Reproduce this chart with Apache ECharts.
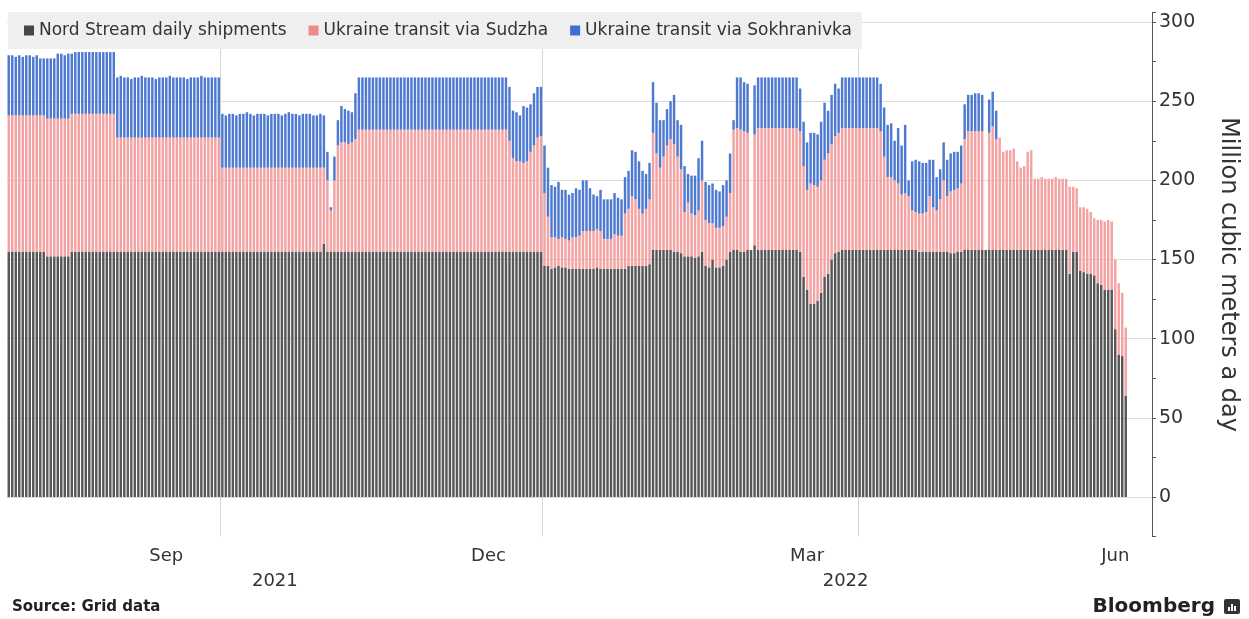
<!DOCTYPE html>
<html><head><meta charset="utf-8">
<script src="https://cdn.jsdelivr.net/npm/echarts@6/dist/echarts.min.js"></script>
<style>html,body{margin:0;padding:0;background:#fff}#c{width:1249px;height:619px}</style>
</head><body><div id="c"></div>
<script>
// x categories: one per day, 2021-08-01 .. 2022-06-23
const firstDay = '2021-08-01';
const dayCount = 327;
const categories = [];
(function () {
  const t0 = Date.parse(firstDay + 'T00:00:00Z');
  for (let i = 0; i < dayCount; i++) categories.push(new Date(t0 + i * 86400000).toISOString().slice(0, 10));
})();

// Nord Stream daily shipments (mcm/d), from 2021-08-01
const nord = [
155,155,155,155,155,155,155,155,155,155,155,
152,152,152,152,152,152,152,
155,155,155,155,155,155,155,155,155,155,155,155,155,
155,155,155,155,155,155,155,155,155,155,155,155,155,155,155,155,155,155,155,155,155,155,155,155,155,155,155,155,155,155,
155,155,155,155,155,155,155,155,155,155,155,155,155,155,155,155,155,155,155,155,155,155,155,155,155,155,155,155,155,
160,
155,155,155,155,155,155,155,155,155,155,155,155,155,155,155,155,155,155,155,155,155,155,155,155,155,155,155,155,155,155,155,155,155,155,155,155,155,155,155,155,155,155,155,155,155,155,155,155,155,155,155,155,155,155,155,155,155,155,155,155,155,155,
146,146,144,145,146,145,145,144,144,144,144,144,144,144,144,145,144,144,144,144,144,144,144,144,146,146,146,146,146,146,147,
156,156,156,156,156,156,155,155,154,152,152,152,151,152,155,146,145,150,145,145,146,150,155,156,156,155,155,156,
156,159,156,156,156,156,156,156,156,156,156,156,156,156,
155,139,131,122,122,124,129,139,141,150,154,155,
156,156,156,156,156,156,156,156,156,156,156,156,
156,156,156,156,156,156,156,156,156,156,
155,155,155,155,155,155,155,155,155,
154,154,155,155,
156,156,156,156,156,156,156,156,156,156,
156,156,156,156,156,156,156,156,156,156,156,156,156,156,156,156,156,156,156,156,
141,155,155,143,142,141,141,140,135,134,131,131,131,106,90,89,64
];

// Ukraine transit via Sudzha (mcm/d)
const sudzha = [
86,86,86,86,86,86,86,86,86,86,86,
87,87,87,87,87,87,87,
87,87,87,87,87,87,87,87,87,87,87,87,87,
72,72,72,72,72,72,72,72,72,72,72,72,72,72,72,72,72,72,72,72,72,72,72,72,72,72,72,72,72,72,
53,53,53,53,53,53,53,53,53,53,53,53,53,53,53,53,53,53,53,53,53,53,53,53,53,53,53,53,53,
48,
45,26,45,67,69,69,68,69,71,
77,77,77,77,77,77,77,77,77,77,77,77,77,77,77,77,77,77,77,77,77,77,77,77,77,77,77,77,77,77,77,77,77,77,77,77,77,77,77,77,77,77,77,
70,59,57,57,56,57,63,67,72,73,
46,31,20,19,17,19,18,18,20,20,21,24,24,24,24,24,24,19,19,19,22,21,21,35,36,44,42,36,33,36,41,
74,61,52,59,66,70,68,60,53,28,34,27,27,29,45,29,28,23,25,25,25,27,37,76,77,77,76,74,
0,70,77,77,77,77,77,77,77,77,77,77,77,77,
76,70,63,76,75,72,71,74,76,73,74,75,
77,77,77,77,77,77,77,77,77,77,77,75,
59,46,46,44,42,35,36,34,25,24,24,24,25,35,28,26,33,45,35,39,40,40,43,
70,75,75,75,75,75,0,74,78,70,
71,62,63,63,64,56,52,53,62,63,
45,45,46,45,45,45,46,45,45,45,
55,41,40,40,41,41,39,36,40,41,43,44,43,44,45,40,43
];

// Ukraine transit via Sokhranivka (mcm/d)
const sokhranivka = [
38,38,37,38,37,38,38,37,38,36,36,
38,38,38,41,41,40,41,
38,39,39,39,39,39,39,39,39,39,39,39,39,
38,39,38,38,37,38,38,39,38,38,38,37,38,38,38,39,38,38,38,38,37,38,38,38,39,38,38,38,38,38,
34,33,34,34,33,34,34,35,34,33,34,34,34,33,34,34,34,33,34,35,34,34,33,34,34,34,33,33,34,
33,
18,2,15,16,23,21,21,19,29,
33,33,33,33,33,33,33,33,33,33,33,33,33,33,33,33,33,33,33,33,33,33,33,33,33,33,33,33,33,33,33,33,33,33,33,33,33,33,33,33,33,33,33,
34,30,31,29,36,34,30,33,32,31,
30,31,33,32,36,30,31,29,28,31,29,32,32,27,23,21,26,25,25,25,26,24,23,23,24,29,30,30,27,22,23,
32,32,30,23,23,24,31,23,28,29,18,24,25,33,25,24,24,25,24,23,26,23,25,6,32,33,31,31,
0,31,32,32,32,32,32,32,32,32,32,32,32,32,
27,28,30,32,33,33,37,36,27,31,33,28,
32,32,32,32,32,32,32,32,32,32,32,30,
31,33,34,25,35,31,43,10,31,33,33,32,31,23,30,21,19,24,23,24,24,23,24,
22,23,23,24,24,23,0,21,22,18,
0,0,0,0,0,0,0,0,0,0,0,0,0,0,0,0,0,0,0,0,0,0,0,0,0,0,0,0,0,0,0,0,0,0,0,0,0
];

const seriesNames = ['Nord Stream daily shipments', 'Ukraine transit via Sudzha', 'Ukraine transit via Sokhranivka'];
const legendColors = ['#474747', '#f08a8a', '#3f6fd6'];
const monthLabelDates = ['2021-09-15', '2021-12-16', '2022-03-17', '2022-06-13'];
const monthLabels = ['Sep', 'Dec', 'Mar', 'Jun'];
const yearLabelDates = ['2021-10-16', '2022-03-28'];
const yearLabels = ['2021', '2022'];
const quarterLineDates = ['2021-10-01', '2022-01-01', '2022-04-01'];
const yLabelValues = [0, 50, 100, 150, 200, 250, 300];

const FONT = 'DejaVu Sans';
const chart = echarts.init(document.getElementById('c'), null, { renderer: 'canvas' });

chart.setOption({
  animation: false,
  backgroundColor: '#ffffff',
  textStyle: { fontFamily: FONT },
  grid: { left: 7, right: 97, top: 12.5, bottom: 82.4, containLabel: false },
  legend: {
    left: 8, top: 12, padding: [10, 10, 10, 16], backgroundColor: '#efefef',
    itemWidth: 10, itemHeight: 10, itemGap: 22, icon: 'rect',
    textStyle: { fontSize: 17, color: '#333', fontFamily: FONT },
    data: seriesNames.map((n, i) => ({ name: n, itemStyle: { color: legendColors[i] } })),
    selectedMode: false
  },
  xAxis: [{
    type: 'category', data: categories, position: 'bottom',
    axisLine: { show: false }, axisTick: { show: false },
    axisLabel: {
      interval: (i, v) => monthLabelDates.includes(v),
      formatter: v => monthLabels[monthLabelDates.indexOf(v)] || '',
      fontSize: 18, color: '#333', margin: 11, fontFamily: FONT
    },
    splitLine: { show: true, interval: (i, v) => quarterLineDates.includes(v), lineStyle: { color: '#d6d6d6', width: 1 } }
  }, {
    type: 'category', data: categories, position: 'bottom', offset: 25,
    axisLine: { show: false }, axisTick: { show: false }, splitLine: { show: false },
    axisLabel: {
      interval: (i, v) => yearLabelDates.includes(v),
      formatter: v => yearLabels[yearLabelDates.indexOf(v)] || '',
      fontSize: 18, color: '#333', margin: 11, fontFamily: FONT
    }
  }],
  yAxis: {
    type: 'value', position: 'right', min: -25, max: 306, interval: 25,
    axisLine: { show: true, lineStyle: { color: '#555', width: 1 } },
    axisTick: { show: true, length: 4, lineStyle: { color: '#555' } },
    axisLabel: {
      formatter: v => yLabelValues.includes(v) ? String(v) : '',
      fontSize: 19, color: '#333', margin: 7, fontFamily: FONT
    },
    splitLine: { show: true, lineStyle: { color: ['rgba(0,0,0,0)', '#dcdcdc'], width: 1 } },
    name: 'Million cubic meters a day', nameLocation: 'middle', nameRotate: -90, nameGap: 64,
    nameTextStyle: { fontSize: 24, color: '#333', fontFamily: FONT }
  },
  series: [
    { name: seriesNames[0], type: 'bar', stack: 'total', data: nord, barCategoryGap: '30%', itemStyle: { color: '#575757' }, silent: true },
    { name: seriesNames[1], type: 'bar', stack: 'total', data: sudzha, barCategoryGap: '30%', itemStyle: { color: '#f4a2a2' }, silent: true },
    { name: seriesNames[2], type: 'bar', stack: 'total', data: sokhranivka, barCategoryGap: '30%', itemStyle: { color: '#4d79d0' }, silent: true }
  ],
  graphic: [
    { type: 'text', left: 12, top: 600, style: { text: 'Source: Grid data', font: 'bold 15px "DejaVu Sans"', fill: '#222' } },
    { type: 'text', right: 34, top: 597, style: { text: 'Bloomberg', font: 'bold 20px "DejaVu Sans"', fill: '#222' } },
    { type: 'group', left: 1224, top: 599, children: [
      { type: 'rect', shape: { x: 0, y: 0, width: 16, height: 15, r: 2 }, style: { fill: '#333' } },
      { type: 'rect', shape: { x: 4, y: 8, width: 2, height: 4 }, style: { fill: '#fff' } },
      { type: 'rect', shape: { x: 7, y: 5, width: 2, height: 7 }, style: { fill: '#fff' } },
      { type: 'rect', shape: { x: 10, y: 7, width: 2, height: 5 }, style: { fill: '#fff' } }
    ] }
  ]
});
</script>
</body></html>
